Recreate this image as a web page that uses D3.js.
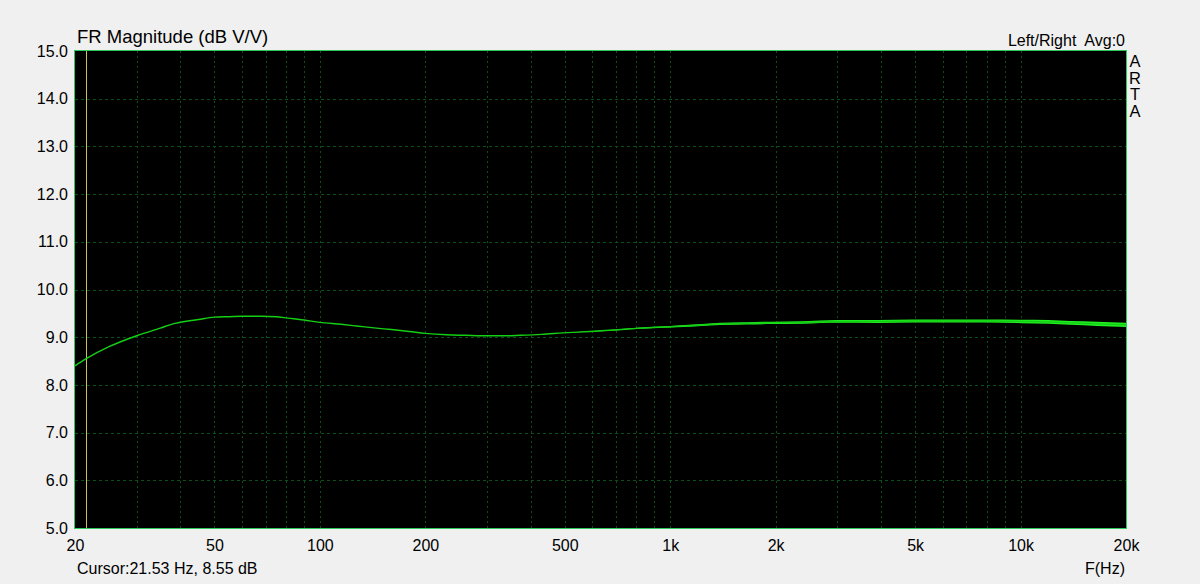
<!DOCTYPE html>
<html><head><meta charset="utf-8">
<script src="https://cdn.jsdelivr.net/npm/d3@7"></script>
<style>
html,body{margin:0;padding:0;background:#f0f0f0;}
svg{display:block;font-family:"Liberation Sans",Arial,sans-serif;}
</style></head>
<body><svg id="c" width="1200" height="584"></svg>
<script>
// Data
const freqs = [20, 21.53, 25, 30, 35, 38.6, 45, 50, 55, 60, 68, 75, 81, 90, 100, 115, 129, 145, 160, 180, 200, 230, 260, 300, 340, 373, 430, 495, 590, 688, 820, 1000, 1200, 1390, 1650, 1930, 2400, 3000, 3900, 4950, 6300, 8000, 10000, 12000, 13840, 16500, 20000];
const magDb = [8.40, 8.55, 8.80, 9.03, 9.19, 9.29, 9.37, 9.42, 9.43, 9.44, 9.44, 9.43, 9.40, 9.36, 9.31, 9.27, 9.23, 9.19, 9.16, 9.12, 9.08, 9.05, 9.04, 9.03, 9.03, 9.04, 9.06, 9.09, 9.12, 9.15, 9.19, 9.22, 9.25, 9.28, 9.29, 9.30, 9.31, 9.33, 9.33, 9.34, 9.34, 9.34, 9.33, 9.32, 9.30, 9.28, 9.26];
const noiseDb = [0,0,0,0,0,0,0,0,0,0,0,0,0,0,0,0,0,0,0,0,0,0,0,0,0,0,0,0,0.005,0.008,0.012,0.015,0.02,0.022,0.025,0.025,0.027,0.028,0.03,0.03,0.03,0.032,0.035,0.038,0.04,0.045,0.045];
const xTicks = [20, 50, 100, 200, 500, 1000, 2000, 5000, 10000, 20000];
const xTickLabels = ["20", "50", "100", "200", "500", "1k", "2k", "5k", "10k", "20k"];
const yTicks = [5, 6, 7, 8, 9, 10, 11, 12, 13, 14, 15];
const cursorFreq = 21.53;
const titleText = "FR Magnitude (dB V/V)";
const legendText = "Left/Right  Avg:0";
const cursorText = "Cursor:21.53 Hz, 8.55 dB";
const xAxisTitle = "F(Hz)";
const sideText = ["A", "R", "T", "A"];

const svg = d3.select("#c");
const L = 75, R = 1126, T = 51, B = 528;
const x = d3.scaleLog().domain([20, 20000]).range([L, R]);
const y = d3.scaleLinear().domain([5, 15]).range([B, T]);

svg.append("rect").attr("x", L).attr("y", T).attr("width", R - L).attr("height", B - T).attr("fill", "#000");

// grid: vertical lines at 30..90, 100..900 etc.
const gridF = [];
[10, 100, 1000, 10000].forEach(d => { for (let k = 1; k <= 9; k++) { const f = d * k; if (f > 20 && f < 20000) gridF.push(f); } });
const g = svg.append("g");
g.selectAll("line.v").data(gridF).join("line")
  .attr("x1", d => Math.round(x(d)) + 0.5).attr("x2", d => Math.round(x(d)) + 0.5)
  .attr("y1", T).attr("y2", B)
  .attr("stroke", "#0a4f1a").attr("stroke-width", 1).attr("stroke-dasharray", "2,3");
g.selectAll("line.h").data(yTicks.slice(1, -1)).join("line")
  .attr("x1", L).attr("x2", R)
  .attr("y1", d => Math.round(y(d)) + 0.5).attr("y2", d => Math.round(y(d)) + 0.5)
  .attr("stroke", "#0a4f1a").attr("stroke-width", 1).attr("stroke-dasharray", "3,3");

// cursor
svg.append("line").attr("x1", Math.round(x(cursorFreq)) + 0.5).attr("x2", Math.round(x(cursorFreq)) + 0.5)
  .attr("y1", T).attr("y2", B).attr("stroke", "#d2c050").attr("stroke-width", 1);

// data
const pts = freqs.map((f, i) => ({ f, v: magDb[i], n: noiseDb[i] }));
svg.append("path").datum(pts)
  .attr("d", d3.area().x(d => x(d.f)).y0(d => y(d.v - d.n)).y1(d => y(d.v + d.n)).curve(d3.curveMonotoneX))
  .attr("fill", "#22f022").attr("stroke", "none");
svg.append("path").datum(pts)
  .attr("d", d3.line().x(d => x(d.f)).y(d => y(d.v)).curve(d3.curveMonotoneX))
  .attr("fill", "none").attr("stroke", "#14d014").attr("stroke-width", 1.4);

// border
svg.append("rect").attr("x", L - 0.5).attr("y", T - 0.5).attr("width", R - L + 1).attr("height", B - T + 1)
  .attr("fill", "none").attr("stroke", "#2ec85a").attr("stroke-width", 1);

const FONT = "Liberation Sans, Arial, sans-serif";
// axes labels
const xAxis = d3.axisBottom(x).tickValues(xTicks).tickFormat((d, i) => xTickLabels[i]).tickSize(0).tickPadding(12);
const xa = svg.append("g").attr("transform", `translate(0,${B})`).call(xAxis);
xa.select(".domain").remove();
xa.selectAll("text").attr("font-size", 16).attr("fill", "#000").attr("font-family", FONT);

const yAxis = d3.axisLeft(y).tickValues(yTicks).tickFormat(d3.format(".1f")).tickSize(0).tickPadding(7);
const ya = svg.append("g").attr("transform", `translate(${L},0)`).call(yAxis);
ya.select(".domain").remove();
ya.selectAll("text").attr("font-size", 16).attr("fill", "#000").attr("font-family", FONT);

svg.append("text").attr("x", 77).attr("y", 43).attr("font-size", 18.5).attr("fill", "#000").text(titleText);
svg.append("text").attr("x", 1125).attr("y", 46).attr("text-anchor", "end").attr("font-size", 16).attr("fill", "#000")
  .style("white-space", "pre").text(legendText);
svg.selectAll("text.side").data(sideText).join("text").attr("class", "side")
  .attr("x", 1135).attr("y", (d, i) => 67 + i * 16.7).attr("text-anchor", "middle").attr("font-size", 16.5).attr("fill", "#000").text(d => d);
svg.append("text").attr("x", 77).attr("y", 574).attr("font-size", 16).attr("fill", "#000").text(cursorText);
svg.append("text").attr("x", 1125).attr("y", 574).attr("text-anchor", "end").attr("font-size", 16).attr("fill", "#000").text(xAxisTitle);
</script></body></html>
